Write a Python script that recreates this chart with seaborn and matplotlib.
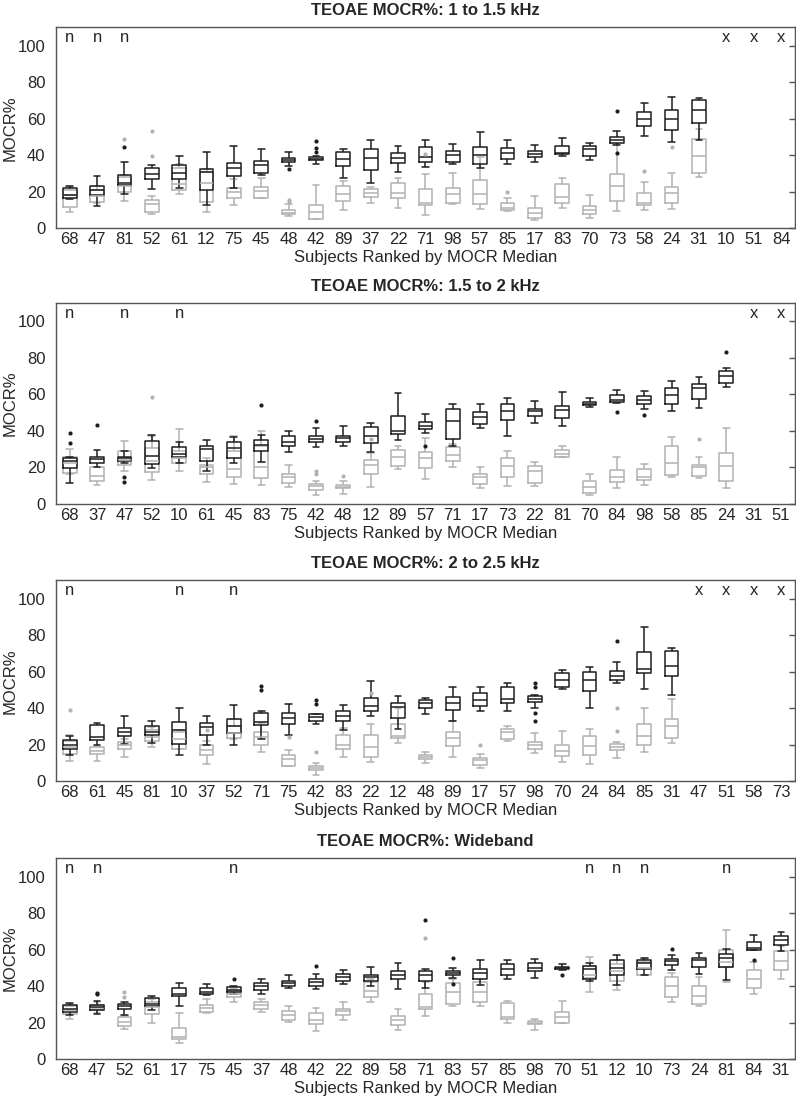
import numpy as np
import pandas as pd
import matplotlib.pyplot as plt
import seaborn as sns

sns.set_style("white")
plt.rcParams['font.family'] = ['Liberation Sans', 'DejaVu Sans']

BLACK = '#1e1e1e'
GRAY = '#b2b2b2'
SPINE = '#555555'

# each box: (low whisker, q1, median, q3, high whisker); outliers keyed by position

# ---- 1 to 1.5 kHz ----
title_1 = "TEOAE MOCR%: 1 to 1.5 kHz"
subjects_1 = ["68", "47", "81", "52", "61", "12", "75", "45", "48", "42", "89", "37", "22", "71",
              "98", "57", "85", "17", "83", "70", "73", "58", "24", "31", "10", "51", "84"]
flags_1 = ["n", "n", "n"] + [""] * 21 + ["x", "x", "x"]
black_1 = [(16, 16.5, 18, 22, 23), (12, 18, 21, 23, 28.5), (19, 23.5, 25, 29, 36),
           (21.5, 27, 29.5, 33, 34.5), (22, 27, 30.5, 34.5, 39.5), (12.5, 21, 31, 32.5, 42),
           (22, 28.5, 33, 35.5, 45), (29, 30.5, 34.5, 37, 43.5), (34, 36, 37.5, 38.5, 42),
           (35, 37.5, 38, 39, 39.5), (27.5, 34, 38, 41.5, 43.5), (24.5, 32, 38.5, 43.5, 48.5),
           (31, 35.5, 38.5, 41, 45), (33.5, 36.5, 39, 44.5, 48.5), (35, 36.5, 40, 42.5, 46),
           (33, 35, 40, 44.5, 52.5), (35, 38, 41, 44, 48.5), (36, 39, 40.5, 42.5, 45.5),
           (39.5, 40.5, 41, 45, 49.5), (37.5, 39.5, 43.5, 45, 46.5), (45.5, 46.5, 48.5, 50, 53.5),
           (50.5, 56, 60, 63.5, 68.5), (47, 54, 60, 65, 72), (48.5, 57.5, 64.5, 70, 71.5),
           None, None, None]
black_out_1 = {2: [44.5], 8: [32.5], 9: [42, 44, 47.5], 20: [64, 41]}
gray_1 = [(9, 11.5, 18, 21, 22.5), (14, 14.5, 17.5, 21, 23), (15, 20, 23, 28, 29),
          (7.5, 9, 13, 15.5, 17.5), (18.5, 21, 24, 33, 35), (9, 14.5, 25, 31, 32.5),
          (12.5, 16.5, 20, 22, 27), (16.5, 16.5, 20.5, 22.5, 27.5), (6.5, 7.5, 8.5, 10, 13),
          (5, 5, 9, 12.5, 23.5), (10, 15, 19, 23, 26), (14, 17, 19.5, 21.5, 22.5),
          (11, 16.5, 19.5, 24.5, 27.5), (7, 12.5, 14, 21.5, 29.5), (13, 14, 19, 22, 30.5),
          (10.5, 13.5, 19, 26.5, 39), (9.5, 10, 11, 14, 16.5), (4.5, 5.5, 8.5, 11, 17.5),
          (11, 14, 17, 24, 27.5), (5.5, 8, 10, 12, 18), (9.5, 15, 23, 29.5, 46),
          (10, 12.5, 14, 19.5, 25.5), (10.5, 14, 19.5, 22.5, 30.5), (28, 30.5, 39.5, 49, 54.5),
          None, None, None]
gray_out_1 = {2: [49], 3: [39.5, 53], 8: [14.5, 15.5], 13: [40.5], 16: [20], 21: [31.5], 22: [44.5]}

# ---- 1.5 to 2 kHz ----
title_2 = "TEOAE MOCR%: 1.5 to 2 kHz"
subjects_2 = ["68", "37", "47", "52", "10", "61", "45", "83", "75", "42", "48", "12", "89", "57",
              "71", "17", "73", "22", "81", "70", "84", "98", "58", "85", "24", "31", "51"]
flags_2 = ["n", "", "n", "", "n"] + [""] * 20 + ["x", "x"]
black_2 = [(11.5, 19.5, 23.5, 25, 26), (20.5, 22.5, 24.5, 25.5, 29.5), (22.5, 23.5, 25, 26, 29),
           (19.5, 22, 26.5, 34.5, 38), (22.5, 25.5, 27.5, 31, 34), (18, 23.5, 30, 31.5, 35),
           (22.5, 25, 30.5, 34, 36.5), (23, 29, 32.5, 35, 38), (28.5, 31.5, 34, 37.5, 40),
           (31, 34, 35.5, 37, 41.5), (32, 34, 36, 37.5, 42.5), (28.5, 33.5, 37.5, 42, 44.5),
           (35, 38.5, 40, 48, 61), (39, 41, 42.5, 45, 49.5), (31.5, 35.5, 45.5, 52, 55),
           (41.5, 44, 47.5, 50.5, 55), (37, 46, 51, 54.5, 58), (44.5, 48, 51, 52, 56.5),
           (42.5, 47, 51.5, 53.5, 61.5), (53, 54, 55, 56, 58), (55.5, 56, 57, 59.5, 62.5),
           (52, 55, 57, 59, 62), (51, 54.5, 59.5, 63.5, 67.5), (52.5, 57.5, 63.5, 65.5, 69.5),
           (64, 66.5, 70, 73, 74.5), None, None]
black_out_2 = {0: [33.5, 39], 1: [43.5], 2: [14.5, 12], 7: [54], 9: [45.5], 13: [31.5],
               20: [50.5], 21: [49], 24: [83.5]}
gray_2 = [(16.5, 17, 22.5, 26, 30), (10.5, 12.5, 15.5, 20.5, 20.5), (18, 21.5, 24, 29, 34.5),
          (13, 17.5, 23.5, 30.5, 37), (18, 22.5, 25, 29, 41), (12, 16.5, 20, 21.5, 25),
          (11, 15, 19, 29, 37.5), (10.5, 14, 20, 31.5, 40), (9.5, 11.5, 14.5, 16.5, 21.5),
          (5, 7.5, 10, 11, 12.5), (5.5, 8.5, 9.5, 10.5, 12.5), (9.5, 16.5, 21.5, 24, 28),
          (19, 21, 25.5, 29.5, 31.5), (13.5, 19.5, 25, 28.5, 36), (20, 23.5, 27, 31, 33),
          (8.5, 11, 15, 16.5, 20.5), (10, 14.5, 21, 25, 29), (10, 11.5, 18, 21, 23),
          (25.5, 25.5, 27.5, 29.5, 32), (5, 6, 9.5, 12.5, 16.5), (9, 12, 15, 18.5, 25.5),
          (10.5, 13, 15, 19, 22), (15, 16, 22.5, 32, 36.5), (14, 15.5, 20.5, 21.5, 25.5),
          (9, 12.5, 21, 28, 41.5), None, None]
gray_out_2 = {3: [58.5], 9: [16.5, 18], 10: [15.5], 11: [35.5], 23: [35.5]}

# ---- 2 to 2.5 kHz ----
title_3 = "TEOAE MOCR%: 2 to 2.5 kHz"
subjects_3 = ["68", "61", "45", "81", "10", "37", "52", "71", "75", "42", "83", "22", "12", "48",
              "89", "17", "57", "98", "70", "24", "84", "85", "31", "47", "51", "58", "73"]
flags_3 = ["n", "", "", "", "n", "", "n"] + [""] * 16 + ["x", "x", "x", "x"]
black_3 = [(14.5, 17.5, 20, 22.5, 24.5), (20, 22.5, 24, 30.5, 32), (20.5, 24.5, 27, 29, 35.5),
           (21, 25.5, 27, 30, 33), (14.5, 20.5, 28, 32.5, 40), (20, 25.5, 29.5, 32, 35.5),
           (19.5, 26.5, 30, 34, 41.5), (23, 30.5, 32.5, 37.5, 38.5), (25.5, 31.5, 34.5, 37.5, 42.5),
           (31, 33, 35, 36.5, 37), (28, 33, 35.5, 38.5, 41.5), (35.5, 38.5, 41, 45.5, 55),
           (28.5, 34.5, 40.5, 43, 46.5), (37, 40, 43, 44.5, 45.5), (33, 39, 43, 46, 51.5),
           (38.5, 41, 44.5, 48, 51.5), (38.5, 43, 45, 51.5, 53.5), (40, 43.5, 45, 46.5, 47),
           (50.5, 51.5, 55.5, 59, 61), (40, 49.5, 55.5, 60, 62.5), (54, 55.5, 57.5, 60.5, 65),
           (50.5, 59, 61.5, 70.5, 84.5), (47, 57.5, 63, 71, 73), None, None, None, None]
black_out_3 = {7: [50, 52], 9: [42.5, 44.5], 17: [53.5, 51.5, 37.5, 33], 20: [77]}
gray_3 = [(11, 15, 18.5, 22, 25), (11, 15, 16.5, 18.5, 19), (13, 17.5, 19.5, 21.5, 23),
          (18.5, 22, 24, 28, 29.5), (17.5, 17.5, 23, 27, 28), (9.5, 14.5, 17, 19.5, 22),
          (23, 23.5, 26.5, 30, 34), (16, 19.5, 24, 27, 32), (8, 8.5, 12, 14.5, 17),
          (3.5, 6, 7, 8.5, 10), (13, 17.5, 19.5, 25, 29), (10.5, 13, 18.5, 25, 31),
          (21, 23.5, 24.5, 31.5, 40), (10, 12, 13, 14.5, 16), (13, 19, 23.5, 27, 33),
          (7, 9, 11.5, 12.5, 15), (22, 23, 27, 28.5, 30), (15.5, 17.5, 20, 21.5, 26.5),
          (10.5, 14, 16.5, 19.5, 27.5), (9.5, 14.5, 19, 24.5, 28.5), (12.5, 17, 18.5, 20.5, 21.5),
          (16, 19.5, 24.5, 31.5, 40), (21, 23.5, 30, 34, 45), None, None, None, None]
gray_out_3 = {0: [39], 5: [28], 8: [24], 9: [16], 11: [48], 15: [20], 20: [27.5, 40]}

# ---- Wideband ----
title_4 = "TEOAE MOCR%: Wideband"
subjects_4 = ["68", "47", "52", "61", "17", "75", "45", "37", "48", "42", "22", "89", "58", "71",
              "83", "57", "85", "98", "70", "51", "12", "10", "73", "24", "81", "84", "31"]
flags_4 = ["n", "n", "", "", "", "", "n"] + [""] * 12 + ["n", "n", "n", "", "", "n", "", ""]
black_4 = [(24, 26, 27.5, 29.5, 30.5), (24.5, 27, 28.5, 29.5, 32), (24, 27.5, 29, 30, 31.5),
           (27, 29, 30, 33.5, 34.5), (29, 34.5, 35.5, 39, 41.5), (35, 35.5, 37, 39, 41),
           (35.5, 36.5, 38, 39.5, 40), (35.5, 38, 40, 41.5, 44), (39, 40, 41.5, 43, 46),
           (38.5, 40, 42, 44, 46.5), (41, 42.5, 45, 46.5, 49), (40, 43, 45, 46, 50.5),
           (38.5, 44, 46, 48.5, 52.5), (39, 42.5, 46, 48, 49.5), (44.5, 46, 47, 48.5, 50),
           (40.5, 44, 47, 49.5, 54.5), (44, 46, 49.5, 52, 54), (44.5, 48, 50, 52.5, 55),
           (49, 49.5, 50, 50.5, 52), (42.5, 44, 49.5, 51, 52.5), (40.5, 46, 50, 54.5, 57),
           (46, 49.5, 52.5, 54.5, 55.5), (49, 51.5, 53.5, 55, 57), (46.5, 50.5, 54.5, 55.5, 58),
           (43.5, 50.5, 55.5, 57.5, 60.5), (59.5, 60, 61, 64, 68), (59, 62.5, 65.5, 67.5, 69.5)]
black_out_4 = {1: [35.5, 36], 6: [44], 9: [51], 13: [76], 14: [55.5, 41], 18: [46],
               22: [60.5], 25: [54]}
gray_4 = [(22, 24.5, 27, 29, 30), (25, 27, 28, 29.5, 31), (16.5, 18, 20.5, 23, 23.5),
          (20, 24.5, 28.5, 31, 33), (9, 11, 12, 17, 25.5), (25, 26, 28, 29.5, 33),
          (31, 34, 35.5, 37.5, 38.5), (26, 27.5, 29.5, 31, 33), (20.5, 21.5, 24, 26.5, 29),
          (15.5, 19, 21.5, 25, 28), (21.5, 24, 26.5, 27.5, 31), (31, 34, 37.5, 42, 44),
          (16, 18.5, 21.5, 23.5, 27.5), (23.5, 27.5, 28.5, 35.5, 42), (29, 30, 36.5, 41.5, 44),
          (29, 31, 37, 42, 44), (19.5, 22, 23, 30.5, 32), (16, 19, 20, 21, 22),
          (19.5, 20, 23, 26, 32), (36.5, 44.5, 46, 51, 56), (38, 42.5, 48, 52, 54),
          (46, 46, 50, 53, 55), (31.5, 34, 40, 45, 47), (29, 30, 34.5, 40, 45),
          (42, 50.5, 53, 60, 70.5), (35.5, 39, 44, 49, 53), (44, 49, 53.5, 59, 62)]
gray_out_4 = {2: [34, 37], 13: [66.5]}


def long_form(subjects, stats):
    rows = [(s, v) for s, box in zip(subjects, stats) if box is not None for v in box]
    return pd.DataFrame(rows, columns=["subject", "value"])


def outlier_frame(subjects, outs):
    rows = [(subjects[i], v) for i, vals in outs.items() for v in vals]
    return pd.DataFrame(rows, columns=["subject", "value"])


def draw(ax, title, subjects, flags, black, black_out, gray, gray_out):
    for stats, outs, col in [(gray, gray_out, GRAY), (black, black_out, BLACK)]:
        sns.boxplot(data=long_form(subjects, stats), x="subject", y="value", order=subjects,
                    whis=(0, 100), showfliers=False, fill=False, color=col, saturation=1,
                    width=0.5, linewidth=1.1, ax=ax)
        odf = outlier_frame(subjects, outs)
        if len(odf):
            sns.stripplot(data=odf, x="subject", y="value", order=subjects, jitter=False,
                          color=col, size=3, ax=ax, zorder=5)
    for i, f in enumerate(flags):
        if f:
            ax.text(i, 101.8, f, ha="center", va="baseline", fontsize=12)

    ax.set_xlim(-0.5, len(subjects) - 0.5)
    ax.set_ylim(0, 110)
    ax.set_yticks(range(0, 101, 20))
    ax.tick_params(axis="x", length=0, labelsize=12, pad=3)
    ax.tick_params(axis="y", length=4, width=1, color=SPINE, labelsize=12, direction="out")
    ax.set_xlabel("Subjects Ranked by MOCR Median", fontsize=12, labelpad=2)
    ax.set_ylabel("MOCR%", fontsize=12)
    ax.yaxis.set_label_coords(-0.052, 0.5)
    ax.set_title(title, fontsize=12, fontweight="bold", pad=9)
    for sp in ax.spines.values():
        sp.set_visible(True)
        sp.set_color(SPINE)
        sp.set_linewidth(1)
    sec = ax.secondary_yaxis("right")
    sec.set_yticks(range(0, 101, 20))
    sec.tick_params(direction="in", length=4, width=1, color=SPINE, labelright=False)
    sec.spines["right"].set_color(SPINE)


fig = plt.figure(figsize=(7.96, 10.97), dpi=100)
panels = [
    (0.792, title_1, subjects_1, flags_1, black_1, black_out_1, gray_1, gray_out_1),
    (0.5406, title_2, subjects_2, flags_2, black_2, black_out_2, gray_2, gray_out_2),
    (0.288, title_3, subjects_3, flags_3, black_3, black_out_3, gray_3, gray_out_3),
    (0.0346, title_4, subjects_4, flags_4, black_4, black_out_4, gray_4, gray_out_4),
]
for bottom, *args in panels:
    ax = fig.add_axes([0.0704, bottom, 0.928, 0.183])
    draw(ax, *args)

fig.savefig("out.png", dpi=100)
